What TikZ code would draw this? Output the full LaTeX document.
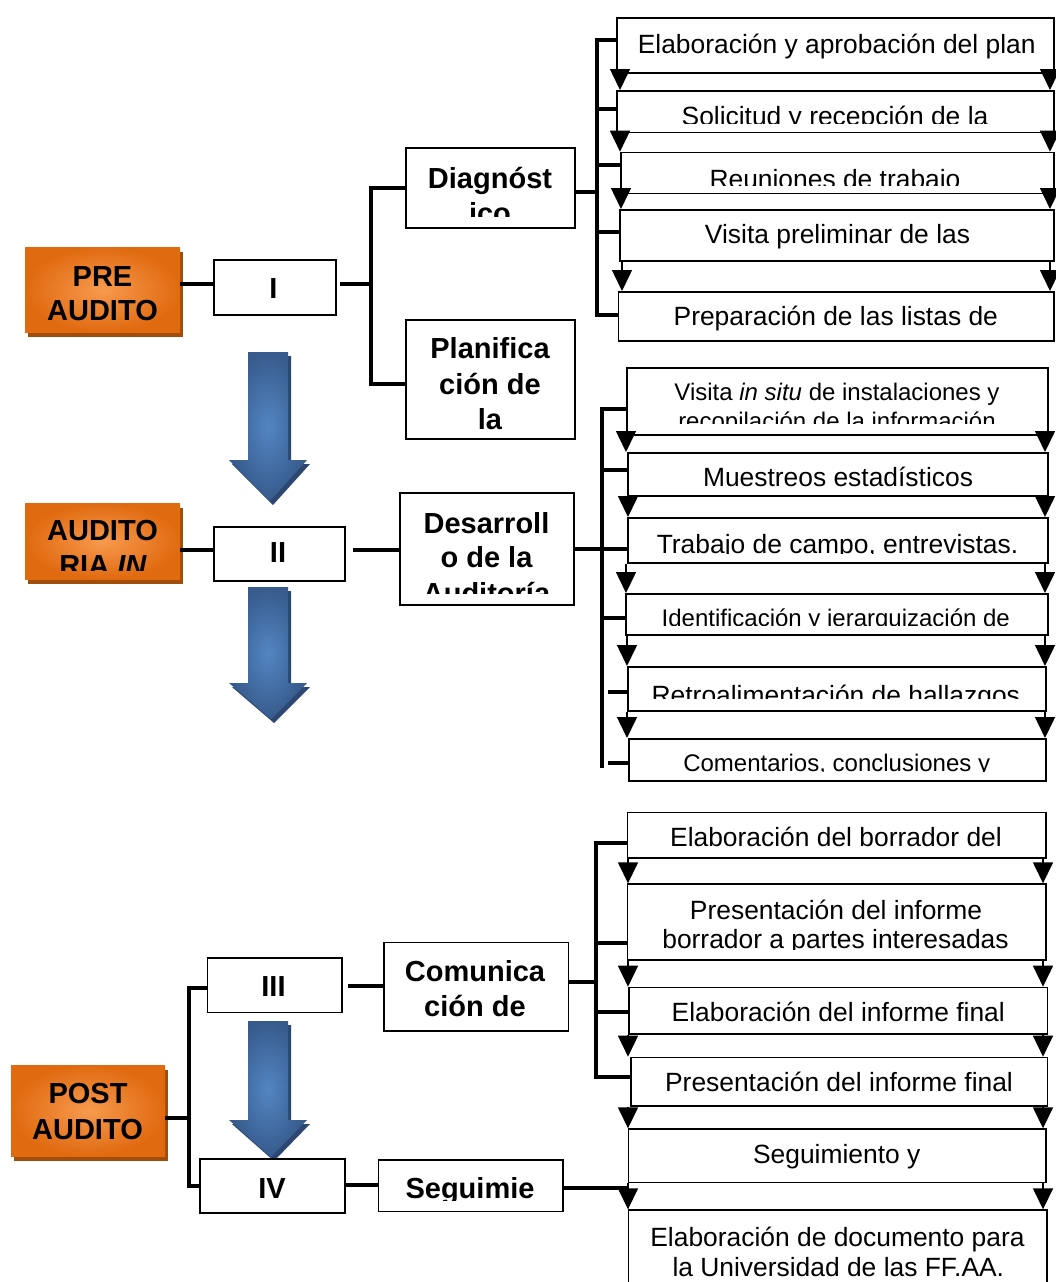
\documentclass[tikz,border=0pt]{standalone}
\usepackage{fontspec}
\setmainfont{Liberation Sans}
\usetikzlibrary{arrows.meta,shadows}
\definecolor{orL}{HTML}{F79A4E}
\definecolor{orD}{HTML}{E06A10}
\definecolor{orS}{HTML}{A24D0A}
\definecolor{blL}{HTML}{5385C2}
\definecolor{blD}{HTML}{375B8C}
\definecolor{blS}{HTML}{2C4872}
\newcommand\fr{\fontsize{26.4}{30}\selectfont}
\newcommand\fsm{\fontsize{24}{28}\selectfont}
\newcommand\fbd{\fontsize{29}{34}\selectfont\bfseries}
\tikzset{
  box/.style={draw, line width=1.5pt, fill=white, inner sep=0pt, anchor=north west},
  phase/.style={inner sep=0pt, anchor=north west, shade, inner color=orL, outer color=orD,
    general shadow={fill=orS, shadow xshift=3pt, shadow yshift=-5pt}},
  link/.style={line width=4pt, line join=miter},
  flow/.style={line width=1.5pt, -{Triangle[width=20pt,length=21pt]}},
  txr/.style={anchor=base, inner sep=0pt, font=\fr},
  txs/.style={anchor=base, inner sep=0pt, font=\fsm},
  txb/.style={anchor=base, inner sep=0pt, font=\fbd},
}
% #1 style, #2 name, #3 x1, #4 y1, #5 x2, #6 y2
\newcommand\bx[6]{\node[#1, minimum width={#5-#3}, minimum height={#6-#4}] (#2) at (#3,#4) {};}
% blue arrow: #1 top, #2 head base, #3 tip x, #4 tip y
\newcommand\barrow[4]{%
  \fill[blS] (251,#1+4) -- (291,#1+4) -- (291,#2+4) -- (310,#2+4) -- (#3+3,#4+4) -- (232,#2+4) -- (251,#2+4) -- cycle;
  \shade[inner color=blL, outer color=blD] (248,#1) -- (288,#1) -- (288,#2) -- (307,#2) -- (#3,#4) -- (229,#2) -- (248,#2) -- cycle;}
\begin{document}
\begin{tikzpicture}[x=1pt,y=-1pt]
\fill[white] (0,0) rectangle (1055,1282);
\useasboundingbox (0,0) rectangle (1055,1282);

% ---------- blue arrows ----------
\barrow{352}{460}{270}{501}
\barrow{587}{683}{271}{719}
\barrow{1021}{1120}{271}{1157}

% ---------- phase boxes ----------
\bx{phase}{pre}{25}{247}{180}{332}
\node[txb] (preA) at (102.5,286) {PRE};
\node[txb] (preB) at (102.5,320.7) {AUDITO};
\bx{phase}{ain}{25}{503}{180}{579}
\node[txb] (ainA) at (102.5,540) {AUDITO};
\begin{scope}\clip (25,503) rectangle (180,570);
\node[txb] (ainB) at (103,575) {RIA \textit{IN}};
\end{scope}
\bx{phase}{post}{11}{1065}{165}{1156}
\node[txb] (postA) at (88,1103.3) {POST};
\node[txb] (postB) at (87.5,1139.3) {AUDITO};

% ---------- roman boxes ----------
\bx{box}{i1}{213}{259}{335}{314}
\node[txb] (ti1) at (273.5,298.3) {I};
\bx{box}{ii}{213}{526}{344}{580}
\node[txb] (tii) at (278,562.5) {II};
\bx{box}{iii}{206.7}{957.3}{341}{1011.7}
\node[txb] (tiii) at (273.5,996.7) {III};
\bx{box}{iv}{199.3}{1158.3}{344.3}{1212.3}
\node[txb] (tiv) at (272,1198) {IV};

% ---------- stage boxes ----------
\bx{box}{diag}{405}{147}{574}{227}
\node[txb] (tdiagA) at (490,188) {Diagnóst};
\begin{scope}\clip (405,147) rectangle (574,216);
\node[txb] (tdiagB) at (490,223) {ico};
\end{scope}
\bx{box}{plan}{405}{319}{574}{438}
\node[txb] (tplanA) at (490,358) {Planifica};
\node[txb] (tplanB) at (490,394) {ción de};
\node[txb] (tplanC) at (490,429) {la};
\bx{box}{desa}{399}{492}{573}{604}
\node[txb] (tdesaA) at (486.5,533) {Desarroll};
\node[txb] (tdesaB) at (486.5,567.5) {o de la};
\begin{scope}\clip (399,492) rectangle (573,593);
\node[txb] (tdesaC) at (486.5,603) {Auditoría};
\end{scope}
\bx{box}{comu}{383}{941.7}{567.7}{1030}
\node[txb] (tcomuA) at (475,981) {Comunica};
\node[txb] (tcomuB) at (475,1016.7) {ción de};
\bx{box}{segu}{377.7}{1159.3}{562.3}{1210.7}
\begin{scope}\clip (377.7,1159.3) rectangle (562.3,1200);
\node[txb] (tsegu) at (470,1198.3) {Seguimie};
\end{scope}

% ---------- top activity boxes ----------
\bx{box}{s1}{616}{17}{1053}{72}
\node[txr] (ts1) at (836.7,53) {Elaboración y aprobación del plan};
\bx{box}{s2}{616}{90}{1053}{131.7}
\begin{scope}\clip (616,90) rectangle (1053,123.5);
\node[txr] (ts2) at (835,125.5) {Solicitud y recepción de la};
\end{scope}
\bx{box}{s3}{620}{151.7}{1053}{192.7}
\begin{scope}\clip (620,151.7) rectangle (1053,185);
\node[txr] (ts3) at (835,188.2) {Reuniones de trabajo};
\end{scope}
\bx{box}{s4}{619}{209}{1053}{260}
\node[txr] (ts4) at (837.5,243.3) {Visita preliminar de las};
\bx{box}{s5}{617.7}{291}{1053}{340}
\node[txr] (ts5) at (835.8,325) {Preparación de las listas de};

% ---------- middle activity boxes ----------
\bx{box}{m1}{626}{367}{1047}{434}
\node[txs] (tm1A) at (837,400) {Visita \textit{in situ} de instalaciones y};
\begin{scope}\clip (626,367) rectangle (1047,423.3);
\node[txs] (tm1B) at (837,429) {recopilación de la información};
\end{scope}
\bx{box}{m2}{627}{452}{1047}{495}
\node[txr] (tm2) at (838,486.7) {Muestreos estadísticos};
\bx{box}{m3}{627}{517}{1047}{562}
\begin{scope}\clip (627,517) rectangle (1047,553);
\node[txr] (tm3) at (837.5,553.5) {Trabajo de campo, entrevistas.};
\end{scope}
\bx{box}{m4}{625}{593}{1047}{634}
\begin{scope}\clip (625,593) rectangle (1047,625);
\node[txs] (tm4) at (835.8,626.5) {Identificación y jerarquización de};
\end{scope}
\bx{box}{m5}{627}{666}{1045}{710}
\begin{scope}\clip (627,666) rectangle (1045,698.3);
\node[txr] (tm5) at (835.8,704) {Retroalimentación de hallazgos};
\end{scope}
\bx{box}{m6}{628}{738}{1045}{780}
\begin{scope}\clip (628,738) rectangle (1045,771);
\node[txs] (tm6) at (836.7,771) {Comentarios, conclusiones y};
\end{scope}

% ---------- bottom activity boxes ----------
\bx{box}{b1}{626.7}{811.7}{1045}{857}
\node[txr] (tb1) at (836,846) {Elaboración del borrador del};
\bx{box}{b2}{626.7}{883.3}{1045}{959.3}
\node[txr] (tb2A) at (836,919.3) {Presentación del informe};
\begin{scope}\clip (626.7,883.3) rectangle (1045,949.5);
\node[txr] (tb2B) at (835.5,948.3) {borrador a partes interesadas};
\end{scope}
\bx{box}{b3}{628.3}{986.7}{1046.7}{1033.3}
\node[txr] (tb3) at (838.3,1021.7) {Elaboración del informe final};
\bx{box}{b4}{630}{1056.7}{1046.7}{1105}
\node[txr] (tb4) at (839,1091.7) {Presentación del informe final};
\bx{box}{b5}{627.7}{1128.3}{1045}{1181.7}
\node[txr] (tb5) at (836.7,1163.3) {Seguimiento y};
\bx{box}{b6}{627.7}{1209.3}{1046}{1295}
\node[txr] (tb6A) at (837.5,1246) {Elaboración de documento para};
\node[txr] (tb6B) at (838.3,1276.7) {la Universidad de las FF.AA.};

% ---------- thick connectors ----------
\coordinate (bA1) at (371,188);
\coordinate (bA2) at (371,384);
\draw[link] (pre.east |- 0,284.3) -- (i1.west |- 0,284.3);
\draw[link] (i1.east |- 0,284.3) ++(3,0) -- (bA1 |- 0,284.3);
\draw[link] (diag.west |- bA1) -- (bA1) -- (bA2) -- (plan.west |- bA2);

\coordinate (bT1) at (597,40);
\coordinate (bT2) at (597,315);
\draw[link] (s1.west |- bT1) -- (bT1) -- (bT2) -- (s5.west |- bT2);
\draw[link] (bT1 |- 0,109) -- (s2.west |- 0,109);
\draw[link] (bT1 |- 0,165) -- (s3.west |- 0,165);
\draw[link] (bT1 |- 0,232) -- (s4.west |- 0,232);
\draw[link] (diag.east |- 0,192) -- (bT1 |- 0,192);

\draw[link] (ain.east |- 0,550) -- (ii.west |- 0,550);
\draw[link] (ii.east |- 0,550) ++(7,0) -- (desa.west |- 0,550);
\coordinate (bM1) at (602,409);
\coordinate (bM2) at (602,768);
\draw[link] (m1.west |- bM1) -- (bM1) -- (bM2);
\draw[link] (bM1 |- 0,470) -- (m2.west |- 0,470);
\draw[link] (desa.east |- 0,549) -- (m3.west |- 0,549);
\draw[link] (bM1 |- 0,618) -- (m4.west |- 0,618);
\draw[link] (608,692) -- (m5.west |- 0,692);
\draw[link] (608,763) -- (m6.west |- 0,763);

\coordinate (bP1) at (189,987.7);
\coordinate (bP2) at (189,1186);
\draw[link] (iii.west |- bP1) -- (bP1) -- (bP2) -- (iv.west |- bP2);
\draw[link] (post.east |- 0,1118.3) -- (bP1 |- 0,1118.3);
\draw[link] (iii.east |- 0,985.7) ++(5,0) -- (comu.west |- 0,985.7);
\draw[link] (iv.east |- 0,1185) -- (segu.west |- 0,1185);

\coordinate (bB1) at (595.5,843);
\coordinate (bB2) at (595.5,1077);
\draw[link] (b1.west |- bB1) -- (bB1) -- (bB2) -- (b4.west |- bB2);
\draw[link] (bB1 |- 0,943) -- (b2.west |- 0,943);
\draw[link] (bB1 |- 0,1012) -- (b3.west |- 0,1012);
\draw[link] (comu.east |- 0,982) -- (bB1 |- 0,982);
\draw[link] (segu.east |- 0,1187.7) -- (b5.west |- 0,1187.7);

% ---------- flow arrows ----------
\foreach \a/\b/\xl in {s1/s2/620, s2/s3/620, s3/s4/621, s4/s5/622}{
  \draw[flow] (\a.south -| \xl,0) -- (\b.north -| \xl,0);
  \draw[flow] (\a.south -| 1050,0) -- (\b.north -| 1050,0);}
\foreach \a/\b/\xl in {m1/m2/626, m2/m3/628, m3/m4/626, m4/m5/627, m5/m6/627}{
  \draw[flow] (\a.south -| \xl,0) -- (\b.north -| \xl,0);
  \draw[flow] (\a.south -| 1045,0) -- (\b.north -| 1045,0);}
\foreach \a/\b in {b1/b2, b2/b3, b3/b4, b4/b5, b5/b6}{
  \draw[flow] (\a.south -| 628,0) -- (\b.north -| 628,0);
  \draw[flow] (\a.south -| 1043,0) -- (\b.north -| 1043,0);}
\end{tikzpicture}
\end{document}
